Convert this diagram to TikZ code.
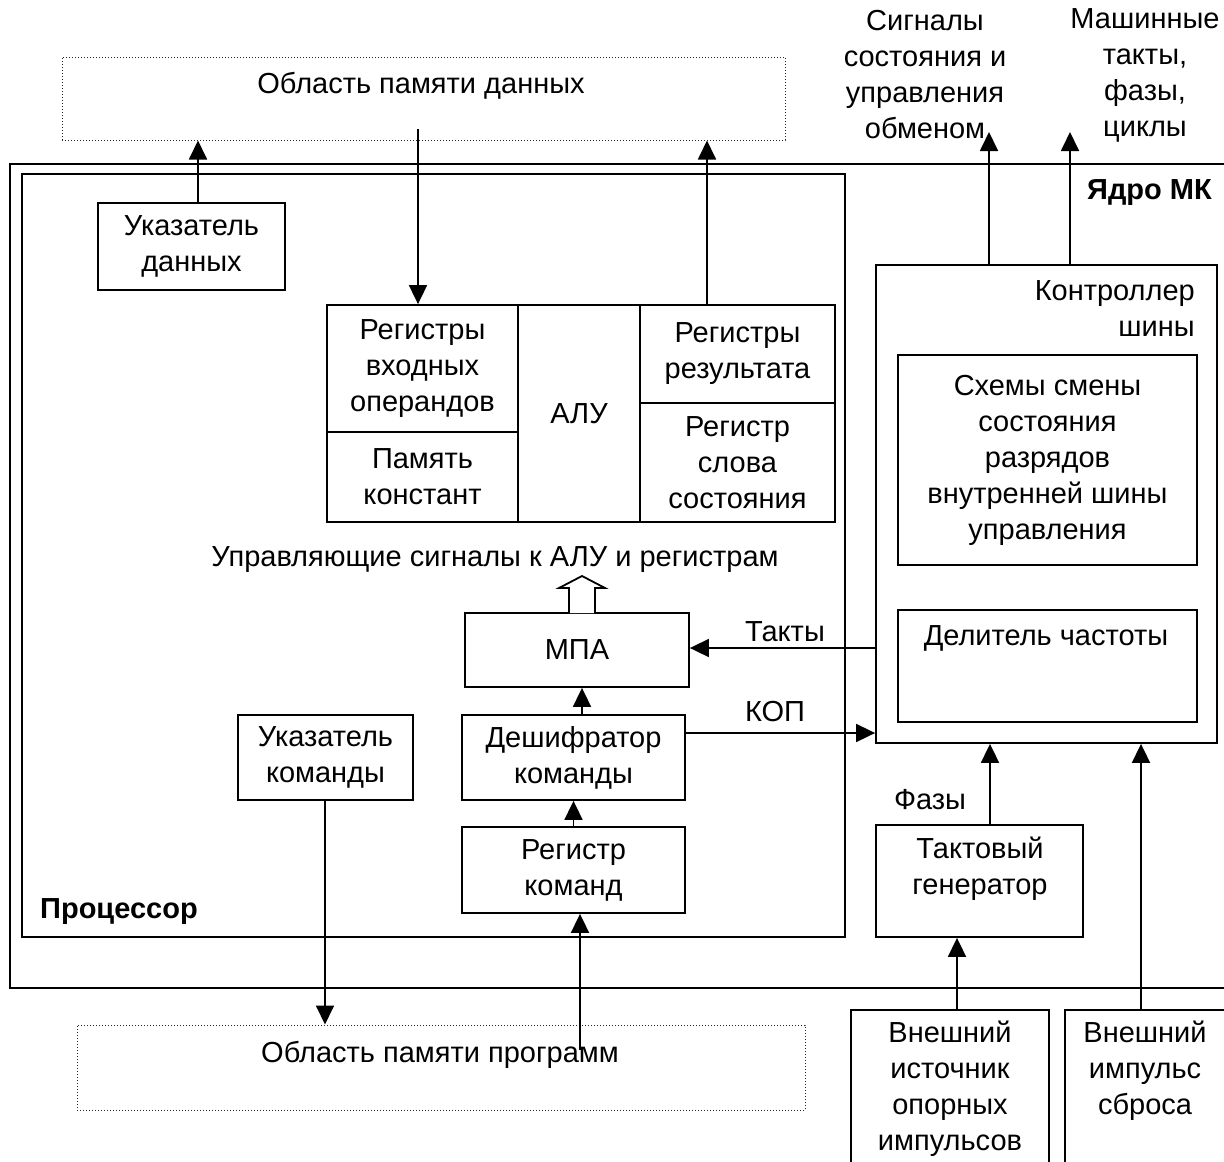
\documentclass[tikz,border=0pt]{standalone}
\usepackage{fontspec}
\setmainfont{Liberation Sans}
\usetikzlibrary{arrows.meta}
\begin{document}
\begin{tikzpicture}[x=1pt,y=-1pt,
  every node/.style={font=\fontsize{29}{36}\selectfont, align=center, inner sep=0pt},
  blk/.style={draw, line width=1.8pt},
  mem/.style={draw, line width=1pt, dash pattern=on 1pt off 2pt, black!85},
  arr/.style={line width=1.8pt, -{Triangle[length=19pt,width=18pt]}},
  bold/.style={font=\fontsize{29}{36}\selectfont\bfseries}]
\useasboundingbox (0,0) rectangle (1224,1162);

% memory areas
\node[mem, minimum width=723pt, minimum height=83pt] (mdata) at (423.5,98.5) {};
\node (mdata-t) at (421,86) {Область памяти данных};
\node[mem, minimum width=728pt, minimum height=85pt] (mprog) at (441,1067.5) {};
\node (mprog-t) at (440,1055) {Область памяти программ};

% core and processor frames
\node[blk, minimum width=1230pt, minimum height=824pt] (core) at (625,576) {};
\node[bold, anchor=east] (core-t) at (1212,193) {Ядро МК};
\node[blk, minimum width=823pt, minimum height=763pt] (proc) at (433.5,555.5) {};
\node[bold, anchor=west] (proc-t) at (40,912) {Процессор};

% processor blocks
\node[blk, minimum width=187pt, minimum height=87pt] (ptrdata) at (191.5,246.5) {Указатель\\данных};
\node[blk, minimum width=191pt, minimum height=127pt] (regin) at (422.5,368.5) {Регистры\\входных\\операндов};
\node[blk, minimum width=191pt, minimum height=90pt] (const) at (422.5,477) {Память\\констант};
\node[blk, minimum width=122pt, minimum height=217pt] (alu) at (579,413.5) {АЛУ};
\node[blk, minimum width=195pt, minimum height=98pt] (res) at (737.5,354) {Регистры\\результата};
\node[blk, minimum width=195pt, minimum height=119pt] (psw) at (737.5,462.5) {Регистр\\слова\\состояния};
\node (ctl-t) at (495,560) {Управляющие сигналы к АЛУ и регистрам};
\node[blk, minimum width=224pt, minimum height=74pt] (mpa) at (577,650) {МПА};
\node[blk, minimum width=223pt, minimum height=85pt] (dec) at (573.5,757.5) {Дешифратор\\команды};
\node[blk, minimum width=223pt, minimum height=86pt] (regcmd) at (573.5,870) {Регистр\\команд};
\node[blk, minimum width=175pt, minimum height=85pt] (ptrcmd) at (325.5,757.5) {Указатель\\команды};

% bus controller
\node[blk, minimum width=341pt, minimum height=478pt] (busctl) at (1046.5,504) {};
\node[anchor=north east, align=right] (busctl-t) at (1195,280) {Контроллер\\шины};
\node[blk, minimum width=299pt, minimum height=210pt] (sch) at (1047.5,460) {Схемы смены\\состояния\\разрядов\\внутренней шины\\управления};
\node[blk, minimum width=299pt, minimum height=112pt] (div) at (1047.5,666) {};
\node (div-t) at (1046,638) {Делитель частоты};

% clock generator and external sources
\node[blk, minimum width=207pt, minimum height=112pt] (gen) at (979.5,881) {};
\node (gen-t) at (980,869) {Тактовый\\генератор};
\node[blk, minimum width=198pt, minimum height=180pt] (ext1) at (950,1100) {};
\node (ext1-t) at (950,1089) {Внешний\\источник\\опорных\\импульсов};
\node[blk, minimum width=180pt, minimum height=180pt] (ext2) at (1155,1100) {};
\node (ext2-t) at (1145,1071) {Внешний\\импульс\\сброса};

% outputs
\node (sig-t) at (925,75) {Сигналы\\состояния и\\управления\\обменом};
\node (mt-t) at (1145,75) {Машинные\\такты,\\фазы,\\циклы};

% connectors
\coordinate (dptr) at (198,203);
\draw[arr] (dptr) -- (dptr |- mdata.south);
\coordinate (din) at (418,129);
\draw[arr] (din) -- (din |- regin.north);
\coordinate (rout) at (707,305);
\draw[arr] (rout) -- (rout |- mdata.south);

% hollow arrow to the ALU
\draw[line width=1.8pt, fill=white] (569,613) -- (569,588) -- (559,588) -- (582,576) -- (605,588) -- (595,588) -- (595,613);

\coordinate (d2m) at (582,715);
\draw[arr] (d2m) -- (d2m |- mpa.south);
\draw[arr] (regcmd.north) -- (dec.south);
\coordinate (p2r) at (580,1050);
\draw[arr] (p2r) -- (p2r |- regcmd.south);
\coordinate (pc) at (325,800);
\draw[arr] (pc) -- (pc |- mprog.north);

\coordinate (tk) at (876,648);
\draw[arr] (tk) -- (tk -| mpa.east);
\node (tk-t) at (785,632) {Такты};
\coordinate (kop) at (685,733);
\draw[arr] (kop) -- (kop -| busctl.west);
\node (kop-t) at (775,712) {КОП};

\coordinate (o1) at (989,265);
\draw[arr] (o1) -- ++(0,-133);
\coordinate (o2) at (1070,265);
\draw[arr] (o2) -- ++(0,-133);

\coordinate (ph) at (990,825);
\draw[arr] (ph) -- (ph |- busctl.south);
\node (ph-t) at (930,800) {Фазы};
\coordinate (e1) at (957,1010);
\draw[arr] (e1) -- (e1 |- gen.south);
\coordinate (e2) at (1141,1010);
\draw[arr] (e2) -- (e2 |- busctl.south);
\end{tikzpicture}
\end{document}
